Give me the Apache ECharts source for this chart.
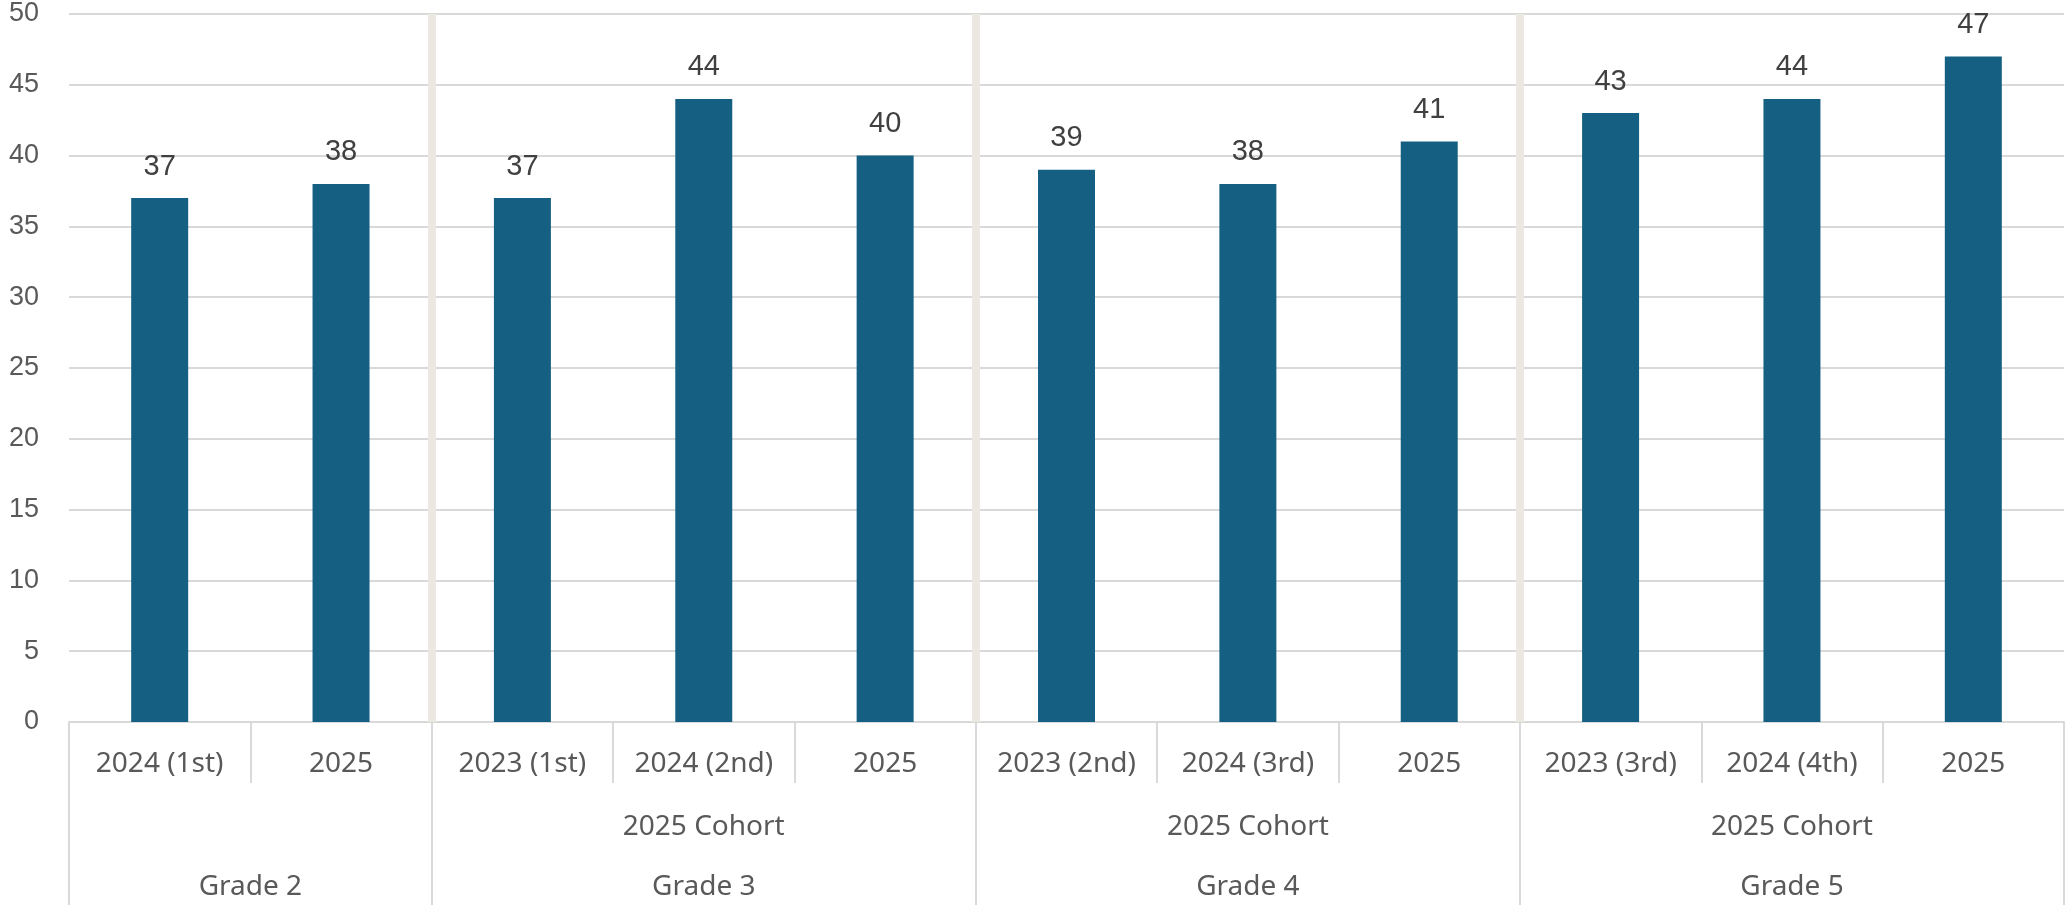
<!DOCTYPE html>
<html>
<head>
<meta charset="utf-8">
<title>Scores by grade and year</title>
<script src="https://cdn.jsdelivr.net/npm/echarts@6/dist/echarts.min.js"></script>
<style>
  html, body { margin: 0; padding: 0; background: #ffffff; overflow: hidden; }
  #chart { width: 2067px; height: 905px; }
</style>
</head>
<body>
<div id="chart"></div>
<script>
// Year labels along the first axis row
const categories = ['2024 (1st)', '2025', '2023 (1st)', '2024 (2nd)', '2025',
                    '2023 (2nd)', '2024 (3rd)', '2025', '2023 (3rd)', '2024 (4th)', '2025'];
// Bar values
const values = [37, 38, 37, 44, 40, 39, 38, 41, 43, 44, 47];
// Grade groups and how many years each one covers
const grades = ['Grade 2', 'Grade 3', 'Grade 4', 'Grade 5'];
const gradeSizes = [2, 3, 3, 3];
const cohorts = ['', '2025 Cohort', '2025 Cohort', '2025 Cohort'];
// Value axis ticks
const yTicks = [0, 5, 10, 15, 20, 25, 30, 35, 40, 45, 50];

// Group rows use a half-category grid: slot 2*i is the left edge of
// category i, slot 2*i+1 its centre, so a group's centre is always a slot.
const slotCount = categories.length * 2 + 1;
const gradeSlots = new Array(slotCount).fill('');
const cohortSlots = new Array(slotCount).fill('');
const boundarySlots = new Set();
let start = 0;
grades.forEach((g, k) => {
  const n = gradeSizes[k];
  boundarySlots.add(2 * start);
  gradeSlots[2 * start + n] = g;
  cohortSlots[2 * start + n] = cohorts[k];
  start += n;
});
boundarySlots.add(2 * start);
const innerBoundaries = new Set([...boundarySlots].filter(s => s !== 0 && s !== slotCount - 1));

const gridColor = '#d9d9d9';
const textColor = '#595959';
const catFont = 'Noto Sans';

const chart = echarts.init(document.getElementById('chart'), null, { renderer: 'canvas' });

chart.setOption({
  animation: false,
  backgroundColor: '#ffffff',
  grid: { left: 69, right: 0, top: 14, bottom: 183, containLabel: false },
  xAxis: [
    {
      type: 'category',
      data: categories,
      position: 'bottom',
      boundaryGap: true,
      axisLine: { show: true, lineStyle: { color: gridColor, width: 2 } },
      axisTick: { show: true, length: 61, lineStyle: { color: gridColor, width: 2 } },
      axisLabel: {
        interval: 0, hideOverlap: false, margin: 42, verticalAlign: 'middle',
        color: textColor, fontFamily: catFont, fontSize: 28
      },
      splitLine: { show: false }
    },
    {
      type: 'category',
      data: cohortSlots,
      position: 'bottom',
      boundaryGap: false,
      axisLine: { show: false },
      axisTick: { show: false },
      axisLabel: {
        interval: 0, hideOverlap: false, margin: 105, verticalAlign: 'middle',
        color: textColor, fontFamily: catFont, fontSize: 28
      },
      splitLine: { show: false }
    },
    {
      type: 'category',
      data: gradeSlots,
      position: 'bottom',
      boundaryGap: false,
      z: 1,
      axisLine: { show: false },
      axisTick: {
        show: true, length: 200,
        interval: (i) => boundarySlots.has(i),
        lineStyle: { color: gridColor, width: 2 }
      },
      axisLabel: {
        interval: 0, hideOverlap: false, margin: 165, verticalAlign: 'middle',
        color: textColor, fontFamily: catFont, fontSize: 28
      },
      splitLine: {
        show: true,
        interval: (i) => innerBoundaries.has(i),
        lineStyle: { color: '#ece8e1', width: 8 }
      }
    }
  ],
  yAxis: {
    type: 'value',
    min: yTicks[0],
    max: yTicks[yTicks.length - 1],
    interval: yTicks[1] - yTicks[0],
    axisLine: { show: false },
    axisTick: { show: false },
    axisLabel: {
      margin: 30, color: textColor, fontFamily: 'Liberation Sans', fontSize: 27
    },
    splitLine: { show: true, lineStyle: { color: gridColor, width: 2 } }
  },
  series: [
    {
      type: 'bar',
      xAxisIndex: 0,
      data: values,
      barWidth: 57,
      itemStyle: { color: '#156082' },
      label: {
        show: true, position: 'top', distance: 17,
        color: '#404040', fontFamily: 'Liberation Sans', fontSize: 29
      },
      z: 3
    }
  ]
});
</script>
</body>
</html>
